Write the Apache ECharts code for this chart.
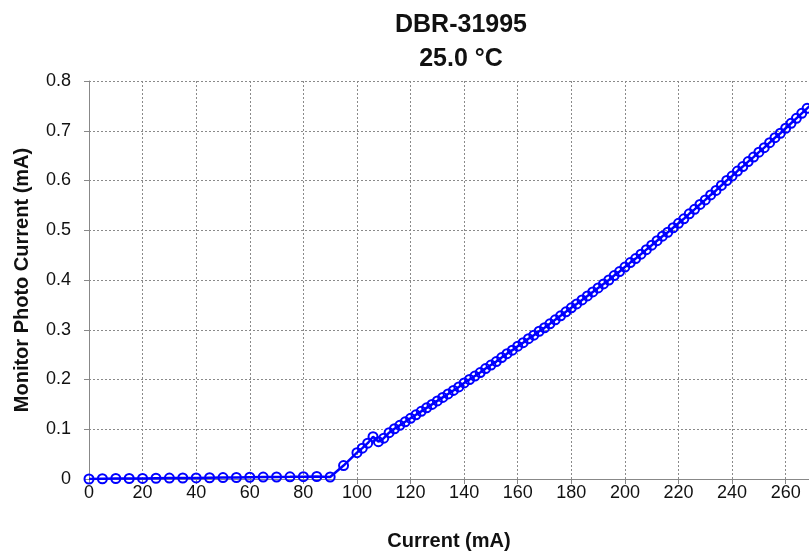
<!DOCTYPE html>
<html>
<head>
<meta charset="utf-8">
<script src="https://cdn.jsdelivr.net/npm/echarts@6/dist/echarts.min.js"></script>
<style>
  html, body { margin: 0; padding: 0; background: #fff; }
  #chart { width: 809px; height: 556px; }
</style>
</head>
<body>
<div id="chart"></div>
<script>
// current (mA) and monitor photo current (mA)
const currentMA = [
  0, 5, 10, 15, 20, 25, 30, 35, 40, 45, 50, 55, 60, 65, 70, 75, 80, 85, 90, 95,
  100, 102, 104, 106, 108, 110, 112, 114, 116, 118, 120, 122, 124, 126, 128, 130,
  132, 134, 136, 138, 140, 142, 144, 146, 148, 150, 152, 154, 156, 158, 160,
  162, 164, 166, 168, 170, 172, 174, 176, 178, 180, 182, 184, 186, 188, 190,
  192, 194, 196, 198, 200, 202, 204, 206, 208, 210, 212, 214, 216, 218, 220,
  222, 224, 226, 228, 230, 232, 234, 236, 238, 240, 242, 244, 246, 248, 250,
  252, 254, 256, 258, 260, 262, 264, 266, 268, 270
]
const photoMA = [
  0, 0.0005, 0.001, 0.001, 0.0012, 0.0015, 0.0018, 0.002, 0.0022, 0.0025, 0.0028, 0.003, 0.0035, 0.0038, 0.004, 0.0043, 0.0047, 0.005, 0.004, 0.027,
  0.053, 0.062, 0.072, 0.085, 0.075, 0.082, 0.093, 0.101, 0.108, 0.115, 0.122, 0.129, 0.136, 0.143, 0.150, 0.157,
  0.164, 0.171, 0.178, 0.185, 0.193, 0.200, 0.207, 0.214, 0.222, 0.229, 0.236, 0.244, 0.252, 0.259, 0.267,
  0.274, 0.282, 0.289, 0.297, 0.304, 0.312, 0.320, 0.328, 0.336, 0.344, 0.352, 0.360, 0.368, 0.376, 0.384,
  0.392, 0.400, 0.409, 0.417, 0.426, 0.435, 0.443, 0.452, 0.461, 0.470, 0.479, 0.488, 0.496, 0.505, 0.514,
  0.523, 0.533, 0.542, 0.552, 0.561, 0.571, 0.580, 0.590, 0.600, 0.609, 0.619, 0.628, 0.638, 0.647, 0.657,
  0.666, 0.676, 0.686, 0.695, 0.705, 0.715, 0.725, 0.735, 0.745, 0.755
]

const font = 'Liberation Sans, Arial, sans-serif'

const chart = echarts.init(document.getElementById('chart'))

const option = {
  animation: false,
  textStyle: { fontFamily: font },
  title: {
    text: 'DBR-31995\n25.0 °C',
    left: 456,
    textAlign: 'center',
    top: 3,
    textStyle: { fontSize: 25, fontWeight: 'bold', color: '#111', lineHeight: 34, fontFamily: font }
  },
  grid: { left: 89, top: 81, right: 0, bottom: 77, outerBoundsMode: 'none' },
  xAxis: {
    type: 'value',
    min: 0,
    max: 268.7,
    interval: 20,
    name: 'Current (mA)',
    nameLocation: 'middle',
    nameGap: 52,
    nameTextStyle: { fontSize: 20, fontWeight: 'bold', color: '#111', fontFamily: font },
    axisLine: { show: true, lineStyle: { color: '#888', width: 1 } },
    axisTick: { show: true, length: 5, lineStyle: { color: '#888' } },
    axisLabel: { fontSize: 18, color: '#111', margin: 5, fontFamily: font },
    splitLine: { show: true, lineStyle: { color: '#8a8a8a', type: [2, 2], width: 1 } }
  },
  yAxis: {
    type: 'value',
    min: 0,
    max: 0.8,
    interval: 0.1,
    name: 'Monitor Photo Current (mA)',
    nameLocation: 'middle',
    nameGap: 57,
    nameTextStyle: { fontSize: 20, fontWeight: 'bold', color: '#111', fontFamily: font },
    axisLine: { show: true, lineStyle: { color: '#888', width: 1 } },
    axisTick: { show: true, length: 5, lineStyle: { color: '#888' } },
    axisLabel: { fontSize: 18, color: '#111', margin: 18, fontFamily: font },
    splitLine: { show: true, lineStyle: { color: '#8a8a8a', type: [2, 2], width: 1 } }
  },
  series: [
    {
      type: 'line',
      data: currentMA.map((x, i) => [x, photoMA[i]]),
      symbol: 'circle',
      symbolSize: 9,
      showAllSymbol: true,
      lineStyle: { color: '#0000ff', width: 2.5 },
      itemStyle: { color: 'rgba(255,255,255,0)', borderColor: '#0000ff', borderWidth: 2 }
    }
  ]
}

chart.setOption(option)
</script>
</body>
</html>
